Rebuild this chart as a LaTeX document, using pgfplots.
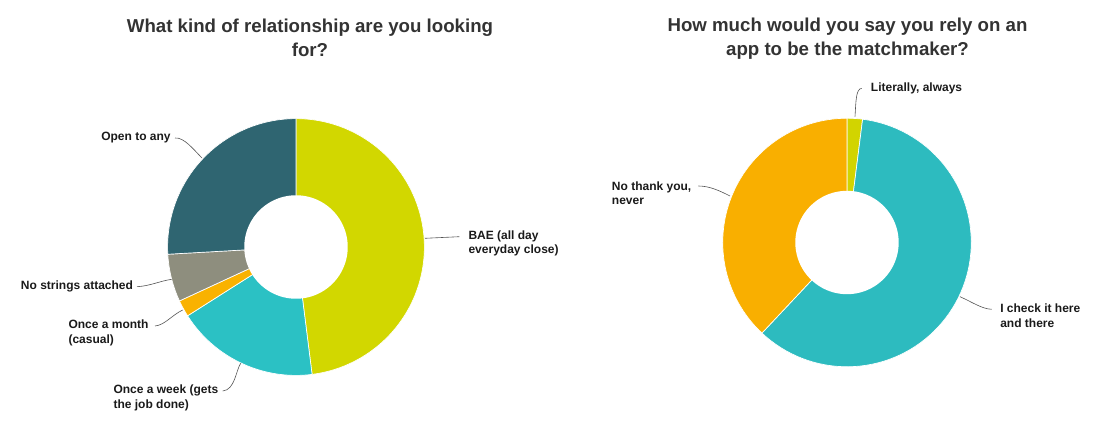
\documentclass[border=0pt]{standalone}
\usepackage{pgfplots}
\pgfplotsset{compat=1.18}
\usepackage{fontspec}
\setmainfont{Liberation Sans}
\definecolor{cBAE}{HTML}{D2D700}
\definecolor{cWeek}{HTML}{2BC1C4}
\definecolor{cMonth}{HTML}{F9B200}
\definecolor{cStr}{HTML}{8E8E7E}
\definecolor{cOpen}{HTML}{2F6571}
\definecolor{cLit}{HTML}{D2D400}
\definecolor{cCheck}{HTML}{2DBBBF}
\definecolor{cNo}{HTML}{F9AF00}
\definecolor{ttl}{HTML}{333333}
\definecolor{lbl}{HTML}{1A1A1A}
\definecolor{lead}{HTML}{555555}
% #1 cumulative percent before slice, #2 percent of slice, #3 colour
\newcommand{\slice}[3]{%
  \addplot[fill=#3, draw=white, line width=0.5pt, domain={90-3.6*(#1+#2)}:{90-3.6*(#1)}, samples=80, variable=\t]
    ({cos(\t)},{sin(\t)}) -- (axis cs:0,0) -- cycle;}
\begin{document}
\begin{tikzpicture}[x=0.75pt,y=-0.75pt]
\useasboundingbox (0,0) rectangle (1096,438);
% Left donut
\begin{axis}[at={(222pt,-185.25pt)}, anchor=center, x=96.3pt, y=96.3pt,
  xmin=-1, xmax=1, ymin=-1, ymax=1, hide axis, clip=false]
  \slice{0}{48}{cBAE}
  \slice{48}{18}{cWeek}
  \slice{66}{2.1}{cMonth}
  \slice{68.1}{6}{cStr}
  \slice{74.1}{25.9}{cOpen}
  \addplot[fill=white, draw=none, domain=0:360, samples=120] ({0.403*cos(x)},{0.403*sin(x)}) -- cycle;
\end{axis}
% Right donut
\begin{axis}[at={(635.25pt,-181.875pt)}, anchor=center, x=93.2pt, y=93.2pt,
  xmin=-1, xmax=1, ymin=-1, ymax=1, hide axis, clip=false]
  \slice{0}{2}{cLit}
  \slice{2}{60}{cCheck}
  \slice{62}{38}{cNo}
  \addplot[fill=white, draw=none, domain=0:360, samples=120] ({0.416*cos(x)},{0.416*sin(x)}) -- cycle;
\end{axis}
% Titles
\node[font=\fontsize{14}{18}\selectfont\bfseries, text=ttl, align=center, inner sep=0] at (310,37.5)
  {What kind of relationship are you looking\\for?};
\node[font=\fontsize{14}{18}\selectfont\bfseries, text=ttl, align=center, inner sep=0] at (847.5,39)
  {How much would you say you rely on an\\app to be the matchmaker?};
% Labels
\begin{scope}[every node/.style={font=\fontsize{9}{11}\selectfont\bfseries, text=lbl, align=left, inner sep=0, anchor=west}]
\node at (101,138) {Open to any};
\node at (20.7,286.7) {No strings attached};
\node at (68.3,333) {Once a month\\(casual)};
\node at (113.3,397.7) {Once a week (gets\\the job done)};
\node at (468.3,243.3) {BAE (all day\\everyday close)};
\node at (870.7,88.3) {Literally, always};
\node at (611.7,193.3) {No thank you,\\never};
\node at (1000,315.7) {I check it here\\and there};
\end{scope}
% Leader lines
\begin{scope}[draw=lead, line width=0.45pt]
\draw (175,138) .. controls (184,137) and (194,150) .. (202,158);
\draw (137,286.7) .. controls (150,286) and (160,281) .. (171.7,279.3);
\draw (155,326) .. controls (165,325) and (172,315) .. (182.7,310);
\draw (222.7,391) .. controls (235,390) and (236,370) .. (240.7,363.3);
\draw (425,238.3) -- (459.3,236.7);
\draw (855,116.7) .. controls (856,100) and (856,89) .. (861.7,88.3);
\draw (698.3,186) .. controls (710,186) and (720,191) .. (730,196);
\draw (960,296.7) .. controls (972,302) and (982,309) .. (991.7,309.3);
\end{scope}
\end{tikzpicture}
\end{document}
